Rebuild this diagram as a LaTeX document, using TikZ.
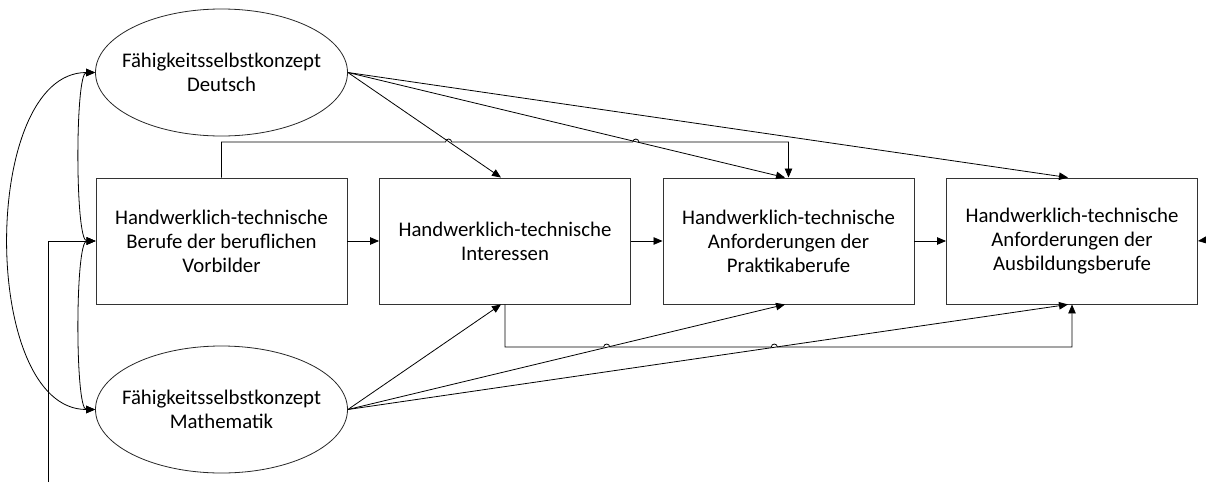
\documentclass[tikz,border=0pt]{standalone}
\usepackage{fontspec}
\setmainfont{Carlito}
\usetikzlibrary{arrows.meta,shapes.geometric}
\tikzstyle{block} = [align=center,draw=black!80,line width=0.9pt,rectangle,text centered,minimum width=251pt,minimum height=126pt,inner sep=0pt]
\tikzstyle{konzept} = [align=center,draw=black!85,line width=0.8pt,ellipse,text centered,minimum width=252pt,minimum height=127pt,inner sep=-25pt]
\tikzstyle{pfeil} = [line width=0.8pt,-{Triangle[length=9pt,width=7.5pt]}]
\tikzstyle{doppel} = [line width=0.8pt,{Triangle[length=9pt,width=7.5pt]}-{Triangle[length=9pt,width=7.5pt]}]

\begin{document}
\begin{tikzpicture}[x=1pt,y=-1pt,node distance=283.5pt,font=\fontsize{20.8}{24}\selectfont]
				\useasboundingbox (0,0) rectangle (1206,482);
				\node (vorb) [block] at (221.5,241) {Handwerklich-technische\\Berufe der beruflichen\\Vorbilder};
				\node (inter) [block,right of=vorb] {Handwerklich-technische\\Interessen};
				\node (prakt) [block,right of=inter] {Handwerklich-technische\\Anforderungen der\\Praktikaberufe};
				\node (ausb) [block,right of=prakt] {Handwerklich-technische\\Anforderungen der\\Ausbildungsberufe};
				\node (dsk) [konzept,above of=vorb,node distance=168.5pt] {Fähigkeitsselbstkonzept\\Deutsch};
				\node (msk) [konzept,below of=vorb,node distance=168.5pt] {Fähigkeitsselbstkonzept\\Mathematik};
				\coordinate (ein) at (48,482);
				\coordinate (rechts) at (1206,240);
				% Pfade zwischen den Kaesten
				\draw [pfeil] (vorb) -- (inter);
				\draw [pfeil] (inter) -- (prakt);
				\draw [pfeil] (prakt) -- (ausb);
				\draw [pfeil] (vorb.north) -- (221.5,142) -- (445.6,142) arc (180:360:3) -- (632.8,142) arc (180:360:3) -| (prakt.north);
				\draw [pfeil] (inter.south) -- (505,347) -- (603.7,347) arc (180:360:3) -- (771.3,347) arc (180:360:3) -| (ausb.south);
				% Selbstkonzepte
				\draw [pfeil] (dsk.east) -- ([xshift=-4pt]inter.north);
				\draw [pfeil] (dsk.east) -- ([xshift=-3.5pt]prakt.north);
				\draw [pfeil] (dsk.east) -- ([xshift=-4pt]ausb.north);
				\draw [pfeil] (msk.east) -- ([xshift=-4pt]inter.south);
				\draw [pfeil] (msk.east) -- ([xshift=-3.5pt]prakt.south);
				\draw [pfeil] (msk.east) -- ([xshift=-4pt]ausb.south);
				% Korrelationen links
				\draw [doppel] (dsk.west) .. controls (-20,72.5) and (-20,409.5) .. (msk.west);
				\draw [doppel] (dsk.west) .. controls (75,72.5) and (75,241) .. (vorb.west);
				\draw [doppel] (vorb.west) .. controls (75,241) and (75,409.5) .. (msk.west);
				\draw [pfeil] (ein) |- (vorb.west);
				\draw [pfeil] (rechts) -- (ausb.east);
			\end{tikzpicture}
\end{document}
